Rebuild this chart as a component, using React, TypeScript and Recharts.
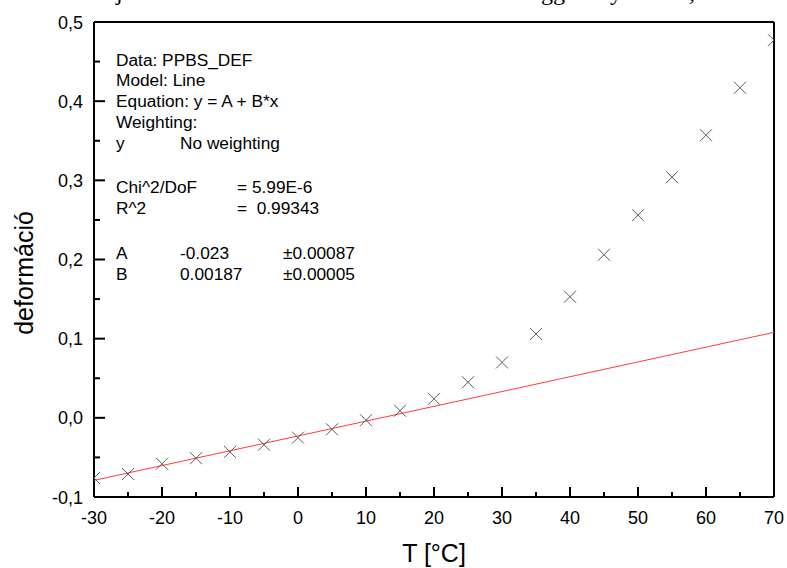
import React from 'react';
import { ScatterChart, Scatter, XAxis, YAxis } from 'recharts';

// measured points (T in °C, deformation)
const temps = [-30, -25, -20, -15, -10, -5, 0, 5, 10, 15, 20, 25, 30, 35, 40, 45, 50, 55, 60, 65, 70];
const deform = [
  -0.076, -0.071, -0.058, -0.051, -0.043, -0.034, -0.025, -0.0145, -0.003, 0.009, 0.024,
  0.045, 0.07, 0.106, 0.153, 0.206, 0.256, 0.304, 0.357, 0.417, 0.477,
];

// linear fit end points
const fitTemps = [-30, 70];
const fitValues = [-0.079, 0.108];

const xTicks = [-30, -25, -20, -15, -10, -5, 0, 5, 10, 15, 20, 25, 30, 35, 40, 45, 50, 55, 60, 65, 70];
const yTicks = [-0.1, -0.05, 0, 0.05, 0.1, 0.15, 0.2, 0.25, 0.3, 0.35, 0.4, 0.45, 0.5];

const FONT = 'Liberation Sans, Arial, sans-serif';

const points = temps.map((t, i) => ({ t, d: deform[i] }));
const fitLine = fitTemps.map((t, i) => ({ t, d: fitValues[i] }));

const isMajorX = (v: number) => v % 10 === 0;
const isMajorY = (v: number) => Math.round(v * 100) % 10 === 0;
const fmtY = (v: number) => v.toFixed(1).replace('.', ',');

const BottomTick = (props: any) => {
  const { x, y, payload } = props;
  const major = isMajorX(payload.value);
  return (
    <g>
      <line x1={x} y1={y} x2={x} y2={y - (major ? 10 : 5)} stroke="#000" strokeWidth={2} />
      {major && (
        <text x={x} y={y + 27} textAnchor="middle" fontSize={18} fontFamily={FONT} fill="#000">
          {payload.value}
        </text>
      )}
    </g>
  );
};

const TopTick = (props: any) => {
  const { x, y, payload } = props;
  const major = isMajorX(payload.value);
  return <line x1={x} y1={y} x2={x} y2={y + (major ? 10 : 5)} stroke="#000" strokeWidth={2} />;
};

const LeftTick = (props: any) => {
  const { x, y, payload } = props;
  const major = isMajorY(payload.value);
  return (
    <g>
      <line x1={x} y1={y} x2={x + (major ? 11 : 6)} y2={y} stroke="#000" strokeWidth={2} />
      {major && (
        <text x={x - 11} y={y + 6.5} textAnchor="end" fontSize={18} fontFamily={FONT} fill="#000">
          {fmtY(payload.value)}
        </text>
      )}
    </g>
  );
};

const RightTick = (props: any) => {
  const { x, y, payload } = props;
  const major = isMajorY(payload.value);
  return <line x1={x} y1={y} x2={x - (major ? 11 : 6)} y2={y} stroke="#000" strokeWidth={2} />;
};

const Cross = (props: any) => {
  const { cx, cy } = props;
  const s = 6;
  return (
    <g stroke="#5a5a5a" strokeWidth={1}>
      <line x1={cx - s} y1={cy - s} x2={cx + s} y2={cy + s} />
      <line x1={cx - s} y1={cy + s} x2={cx + s} y2={cy - s} />
    </g>
  );
};

const axisLine = { stroke: '#000', strokeWidth: 2 };

export default function App() {
  const txt = { fontSize: 17.3, fontFamily: FONT, fill: '#000' };
  return (
    <div style={{ position: 'absolute', left: 0, top: 0, width: 787, height: 568, background: '#fff' }}>
      <ScatterChart width={787} height={568} margin={{ top: 12, right: 3, bottom: 21, left: 14 }}>
        <XAxis
          xAxisId="b"
          dataKey="t"
          type="number"
          orientation="bottom"
          domain={[-30, 70]}
          ticks={xTicks}
          interval={0}
          allowDataOverflow
          height={50}
          tickSize={0}
          tickMargin={0}
          tickLine={false}
          axisLine={axisLine}
          tick={(p: any) => <BottomTick {...p} />}
        />
        <XAxis
          xAxisId="t"
          dataKey="t"
          type="number"
          orientation="top"
          domain={[-30, 70]}
          ticks={xTicks}
          interval={0}
          height={10}
          tickSize={0}
          tickMargin={0}
          tickLine={false}
          axisLine={axisLine}
          tick={(p: any) => <TopTick {...p} />}
        />
        <YAxis
          yAxisId="l"
          dataKey="d"
          type="number"
          orientation="left"
          domain={[-0.1, 0.5]}
          ticks={yTicks}
          interval={0}
          allowDataOverflow
          width={80}
          tickSize={0}
          tickMargin={0}
          tickLine={false}
          axisLine={axisLine}
          tick={(p: any) => <LeftTick {...p} />}
        />
        <YAxis
          yAxisId="r"
          dataKey="d"
          type="number"
          orientation="right"
          domain={[-0.1, 0.5]}
          ticks={yTicks}
          interval={0}
          width={10}
          tickSize={0}
          tickMargin={0}
          tickLine={false}
          axisLine={axisLine}
          tick={(p: any) => <RightTick {...p} />}
        />
        <Scatter
          xAxisId="b"
          yAxisId="l"
          data={fitLine}
          line={{ stroke: '#ff3b3b', strokeWidth: 1 }}
          shape={() => <g />}
          isAnimationActive={false}
        />
        <Scatter
          xAxisId="b"
          yAxisId="l"
          data={points}
          shape={(p: any) => <Cross {...p} />}
          isAnimationActive={false}
        />
      </ScatterChart>
      <svg
        width={787}
        height={568}
        style={{ position: 'absolute', left: 0, top: 0, pointerEvents: 'none' }}
      >
        <g fontFamily="Liberation Serif, Times New Roman, serif" fontSize={24} fill="#000">
          <text x={116} y={0}>j</text>
          <text x={541} y={0}>gg</text>
          <text x={610} y={0}>y</text>
          <text x={689} y={0}>,</text>
        </g>
        <g {...txt}>
          <text x={116} y={66}>Data: PPBS_DEF</text>
          <text x={116} y={86}>Model: Line</text>
          <text x={116} y={107}>Equation: y = A + B*x</text>
          <text x={116} y={128}>Weighting:</text>
          <text x={116} y={149}>y</text>
          <text x={180} y={149}>No weighting</text>
          <text x={116} y={193}>Chi^2/DoF</text>
          <text x={237} y={193}>= 5.99E-6</text>
          <text x={116} y={214}>R^2</text>
          <text x={237} y={214} xmlSpace="preserve" style={{ whiteSpace: 'pre' }}>
            {'=  0.99343'}
          </text>
          <text x={116} y={259}>A</text>
          <text x={180} y={259}>-0.023</text>
          <text x={283} y={259}>±0.00087</text>
          <text x={116} y={280}>B</text>
          <text x={180} y={280}>0.00187</text>
          <text x={283} y={280}>±0.00005</text>
        </g>
        <text x={434} y={562} textAnchor="middle" fontSize={25} fontFamily={FONT} fill="#000">
          T [°C]
        </text>
        <text
          x={33}
          y={273}
          transform="rotate(-90 33 273)"
          textAnchor="middle"
          fontSize={25}
          fontFamily={FONT}
          fill="#000"
        >
          deformáció
        </text>
      </svg>
    </div>
  );
}
